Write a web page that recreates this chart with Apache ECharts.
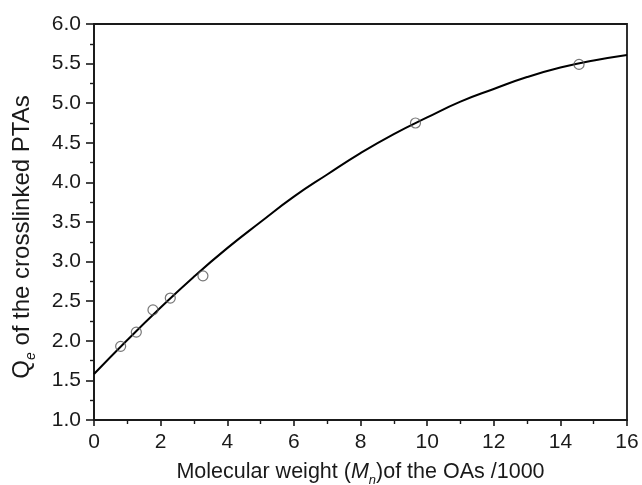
<!DOCTYPE html>
<html lang="en">
<head>
    <meta charset="UTF-8">
    <title>Qe vs molecular weight</title>
    <script src="https://cdn.jsdelivr.net/npm/echarts@6/dist/echarts.min.js"></script>
    <style>
        html, body { margin: 0; padding: 0; background: #fff; }
        #chart { width: 642px; height: 485px; }
    </style>
</head>
<body>
<div id="chart"></div>
<script type="text/javascript">
    // measured points (Mn /1000, Qe)
    var mnValues = [0.80, 1.27, 1.77, 2.29, 3.27, 9.65, 14.56];
    var qeValues = [1.93, 2.11, 2.39, 2.54, 2.82, 4.75, 5.49];

    // fitted curve
    var fitX = [0, 1, 2, 3, 4, 5, 6, 7, 8, 9, 10, 11, 12, 13, 14, 15, 16];
    var fitY = [1.58, 2.01, 2.42, 2.81, 3.17, 3.50, 3.82, 4.10, 4.37, 4.61, 4.82, 5.02, 5.18, 5.33, 5.45, 5.54, 5.61];

    var font = 'Liberation Sans, Arial, sans-serif';
    var ink = '#1a1a1a';

    var chart = echarts.init(document.getElementById('chart'));

    var option = {
        animation: false,
        backgroundColor: '#fff',
        grid: {
            left: 94, right: 15, top: 24, bottom: 65,
            outerBoundsMode: 'none',
            containLabel: false,
            show: true,
            borderColor: ink,
            borderWidth: 1.8
        },
        xAxis: {
            type: 'value',
            min: 0, max: 16, interval: 2,
            name: '{t|Molecular weight (}{i|M}{s|n}{t|)of the OAs /1000}',
            nameLocation: 'middle',
            nameGap: 37,
            nameTextStyle: {
                rich: {
                    t: { fontFamily: font, fontSize: 21.5, color: ink, lineHeight: 30 },
                    i: { fontFamily: font, fontSize: 21.5, color: ink, fontStyle: 'italic', lineHeight: 30 },
                    s: { fontFamily: font, fontSize: 13, color: ink, fontStyle: 'italic', lineHeight: 13, verticalAlign: 'bottom' }
                }
            },
            axisLine: { lineStyle: { color: ink, width: 1.8 } },
            axisTick: { length: 6, lineStyle: { color: ink, width: 1.6 } },
            minorTick: { show: true, splitNumber: 2, length: 4, lineStyle: { color: ink, width: 1.4 } },
            axisLabel: { fontFamily: font, fontSize: 21, color: ink, margin: 12 },
            splitLine: { show: false }
        },
        yAxis: {
            type: 'value',
            min: 1, max: 6, interval: 0.5,
            name: '{t|Q}{s|e}{t| of the crosslinked PTAs}',
            nameLocation: 'middle',
            nameGap: 56,
            nameTextStyle: {
                padding: [0, 30, 0, 0],
                rich: {
                    t: { fontFamily: font, fontSize: 24, color: ink, lineHeight: 32 },
                    s: { fontFamily: font, fontSize: 14, color: ink, fontStyle: 'italic', lineHeight: 14, verticalAlign: 'bottom' }
                }
            },
            axisLine: { lineStyle: { color: ink, width: 1.8 } },
            axisTick: { length: 8, lineStyle: { color: ink, width: 1.6 } },
            minorTick: { show: true, splitNumber: 2, length: 4, lineStyle: { color: ink, width: 1.4 } },
            axisLabel: {
                fontFamily: font, fontSize: 21, color: ink, margin: 13,
                formatter: function (v) { return v.toFixed(1); }
            },
            splitLine: { show: false }
        },
        series: [
            {
                name: 'fit',
                type: 'line',
                smooth: true,
                showSymbol: false,
                data: fitX.map(function (x, i) { return [x, fitY[i]]; }),
                lineStyle: { color: '#000', width: 2 },
                z: 2
            },
            {
                name: 'data',
                type: 'scatter',
                symbol: 'circle',
                symbolSize: 10,
                data: mnValues.map(function (x, i) { return [x, qeValues[i]]; }),
                itemStyle: { color: 'rgba(0,0,0,0)', borderColor: '#555', borderWidth: 1.2 },
                z: 3
            }
        ]
    };
    chart.setOption(option);
</script>
</body>
</html>
